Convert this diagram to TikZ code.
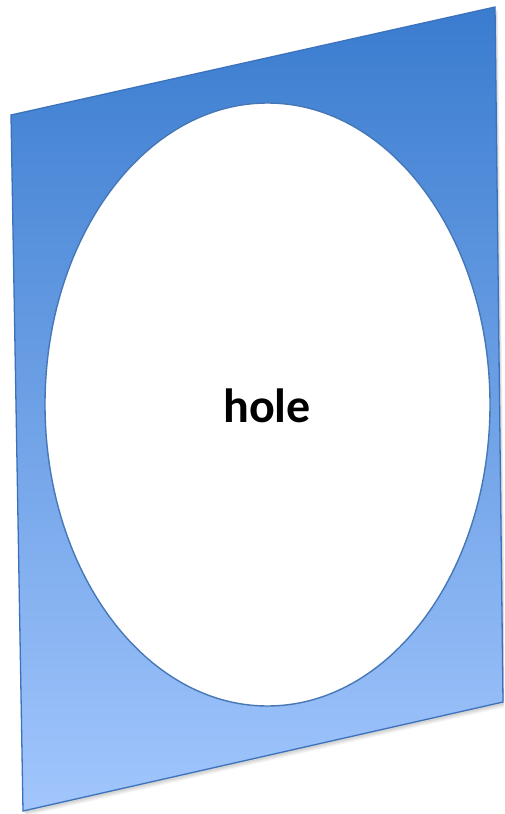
\documentclass[tikz,border=0pt]{standalone}
\usepackage{fontspec}
\setmainfont{Carlito}
\definecolor{topblue}{HTML}{3A7CCF}
\definecolor{botblue}{HTML}{A2C6FD}
\definecolor{edgeblue}{HTML}{3C72BC}
\definecolor{ellblue}{HTML}{4677B6}
\tikzset{
  sheet/.style={top color=topblue, bottom color=botblue, draw=edgeblue, line width=1.3pt, line join=miter},
  holeshape/.style={ellipse, fill=white, draw=ellblue, line width=1.4pt, minimum width=445pt, minimum height=603pt, inner sep=0pt},
  label/.style={font=\bfseries\fontsize{48}{48}\selectfont, text=black}
}
\usetikzlibrary{shapes.geometric}
\begin{document}
\begin{tikzpicture}[x=1pt,y=-1pt]
\useasboundingbox (0,0) rectangle (504,814);
\clip (0,0) rectangle (504,814);
\coordinate (tl) at (11,115);
\coordinate (tr) at (495,7);
\coordinate (br) at (503,702);
\coordinate (bl) at (23,811);
% soft shadow
\foreach \s/\o in {5/0.04,4/0.04,3/0.05,2/0.05}{
  \fill[black,opacity=\o] ([shift={(\s*0.6,\s)}]tl) -- ([shift={(\s*0.6,\s)}]tr) -- ([shift={(\s*0.6,\s)}]br) -- ([shift={(\s*0.6,\s)}]bl) -- cycle;
}
\shade[sheet] (tl) -- (tr) -- (br) -- (bl) -- cycle;
\node[holeshape] (hole) at (267.5,404.5) {};
\node[label] (txt) at (267,406) {hole};
\end{tikzpicture}
\end{document}
